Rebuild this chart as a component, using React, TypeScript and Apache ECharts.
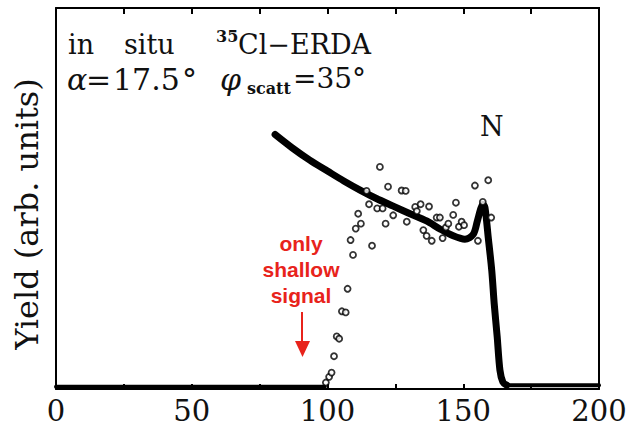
import React, { useEffect, useRef } from "react";
import * as echarts from "echarts";

// x tick labels (channel / depth axis)
const xTickLabels = [0, 50, 100, 150, 200];

// simulated (thick) curve
const simX = [80.7, 87, 93.6, 100, 106, 112, 118, 124.2, 130.4, 136.5, 141.4, 146.3, 150.6, 153.7, 155.2, 156.4, 157.2, 158.0, 159.2, 160.5, 161.4, 162.5, 163.5, 164.6, 166];
const simY = [66.8, 63.3, 60.0, 57.2, 54.6, 52.2, 50.0, 48.0, 46.0, 44.1, 42.0, 40.2, 39.3, 40.6, 44.1, 47.2, 48.5, 47.6, 39.8, 31.1, 22.4, 13.7, 5.0, 1.8, 1.0];

// flat baselines
const baseLeftX = [0, 99];
const baseLeftY = [0.6, 0.6];
const baseRightX = [165.5, 200];
const baseRightY = [1.0, 1.0];

// measured points (open circles)
const measX = [99.4, 100.6, 101.5, 102.4, 103.4, 104.3, 105.3, 106.7, 107.4, 108.5, 109.4, 110.4, 111.3, 112.3, 114.4, 115.3, 116.4, 118.3, 119.3, 120.3, 121.4, 122.3, 124.2, 127.3, 128.8, 129.2, 132.3, 132.9, 134.3, 135.3, 136.5, 137.4, 138.4, 140.2, 141.4, 142.4, 143.6, 144.5, 146.3, 147.3, 148.4, 149.4, 150.3, 154.3, 155.4, 157.2, 159.2, 160.3];
const measY = [1.7, 3.2, 4.3, 8.6, 13.8, 13.2, 20.4, 20.1, 26.3, 39.1, 35.2, 42.1, 46.0, 43.4, 52.0, 48.5, 37.6, 47.4, 58.3, 47.4, 43.4, 53.1, 45.6, 52.1, 52.0, 43.9, 47.8, 46.7, 48.5, 41.7, 40.2, 47.9, 38.9, 45.0, 45.0, 39.6, 42.4, 43.4, 45.7, 48.9, 42.6, 43.9, 43.0, 53.4, 38.9, 49.1, 54.8, 45.0];

const SERIF = "'DejaVu Serif', serif";
const RED = "#e8231b";
const INK = "#111";

export default function App() {
  const ref = useRef<HTMLDivElement>(null);

  useEffect(() => {
    if (!ref.current) return;
    const chart = echarts.init(ref.current, null, { renderer: "svg" });

    const pairs = (xs: number[], ys: number[]) => xs.map((x, i) => [x, ys[i]]);

    const lineSty = { color: "#000", width: 2 };

    chart.setOption({
      animation: false,
      backgroundColor: "#fff",
      grid: [{ left: 56, right: 32, top: 8, bottom: 41 }],
      xAxis: [
        {
          type: "value",
          gridIndex: 0,
          min: 0,
          max: 200,
          interval: 25,
          position: "bottom",
          splitLine: { show: false },
          axisLine: { show: true, onZero: false, lineStyle: lineSty },
          axisTick: { show: true, inside: true, length: 5, lineStyle: lineSty },
          axisLabel: {
            show: true,
            margin: 7,
            fontFamily: SERIF,
            fontSize: 29,
            color: INK,
            formatter: (v: number) => (xTickLabels.includes(v) ? String(v) : ""),
          },
        },
        {
          type: "value",
          gridIndex: 0,
          min: 0,
          max: 200,
          interval: 25,
          position: "top",
          splitLine: { show: false },
          axisLine: { show: true, onZero: false, lineStyle: lineSty },
          axisTick: { show: true, inside: true, length: 6, lineStyle: lineSty },
          axisLabel: { show: false },
        },
      ],
      yAxis: [
        {
          type: "value",
          gridIndex: 0,
          min: 0,
          max: 100,
          position: "left",
          splitLine: { show: false },
          axisTick: { show: false },
          axisLabel: { show: false },
          axisLine: { show: true, onZero: false, lineStyle: lineSty },
        },
        {
          type: "value",
          gridIndex: 0,
          min: 0,
          max: 100,
          position: "right",
          splitLine: { show: false },
          axisTick: { show: false },
          axisLabel: { show: false },
          axisLine: { show: true, onZero: false, lineStyle: lineSty },
        },
      ],
      series: [
        {
          type: "line",
          data: pairs(baseLeftX, baseLeftY),
          symbol: "none",
          lineStyle: { color: "#000", width: 4, cap: "round" },
          z: 2,
        },
        {
          type: "line",
          xAxisIndex: 1,
          yAxisIndex: 1,
          data: pairs(baseRightX, baseRightY),
          symbol: "none",
          lineStyle: { color: "#000", width: 4, cap: "round" },
          z: 2,
        },
        {
          type: "line",
          data: pairs(simX, simY),
          symbol: "none",
          smooth: 0.3,
          lineStyle: { color: "#000", width: 7, cap: "round", join: "round" },
          z: 3,
        },
        {
          type: "scatter",
          data: pairs(measX, measY),
          symbol: "circle",
          symbolSize: 6,
          itemStyle: { color: "#fff", borderColor: "#000", borderWidth: 1.8 },
          z: 4,
        },
      ],
      graphic: [
        {
          type: "polyline",
          shape: { points: [[56, 8], [599, 8], [599, 389]] },
          style: { stroke: "#000", lineWidth: 2, fill: null },
        },
        { type: "text", left: 68, top: 31, style: { text: "in", font: `27px ${SERIF}`, fill: INK } },
        { type: "text", left: 124, top: 31, style: { text: "situ", font: `27px ${SERIF}`, fill: INK } },
        { type: "text", left: 216, top: 28, style: { text: "35", font: `bold 16px ${SERIF}`, fill: INK } },
        { type: "text", left: 238, top: 31, style: { text: "Cl\u2212ERDA", font: `27px ${SERIF}`, fill: INK } },
        { type: "text", left: 67, top: 64, style: { text: "\u03b1", font: `italic 30px ${SERIF}`, fill: INK } },
        { type: "text", left: 86, top: 64, style: { text: "=", font: `30px ${SERIF}`, fill: INK } },
        { type: "text", left: 113, top: 64, style: { text: "17.5", font: `30px ${SERIF}`, fill: INK } },
        { type: "text", left: 182, top: 64, style: { text: "\u00b0", font: `30px ${SERIF}`, fill: INK } },
        { type: "text", left: 220, top: 64, style: { text: "\u03c6", font: `italic 30px ${SERIF}`, fill: INK } },
        { type: "text", left: 247, top: 80, style: { text: "scatt", font: `bold 16px ${SERIF}`, fill: INK } },
        { type: "text", left: 293, top: 64, style: { text: "=35\u00b0", font: `28px ${SERIF}`, fill: INK } },
        { type: "text", left: 480, top: 113, style: { text: "N", font: `27px ${SERIF}`, fill: INK } },
        {
          type: "text",
          x: 27,
          y: 214,
          rotation: Math.PI / 2,
          style: { text: "Yield (arb. units)", font: `32px ${SERIF}`, fill: INK, align: "center", verticalAlign: "middle" },
        },
        {
          type: "text",
          x: 301,
          y: 230,
          style: {
            text: "only\nshallow\nsignal",
            font: `bold 21px 'Liberation Sans', Arial, sans-serif`,
            fill: RED,
            align: "center",
            verticalAlign: "top",
            lineHeight: 26,
          },
        },
        { type: "line", shape: { x1: 302, y1: 312, x2: 302, y2: 343 }, style: { stroke: RED, lineWidth: 2 } },
        { type: "polygon", shape: { points: [[295, 341], [310, 341], [302.5, 357]] }, style: { fill: RED } },
      ],
    });

    return () => chart.dispose();
  }, []);

  return <div ref={ref} style={{ position: "absolute", left: 0, top: 0, width: 631, height: 430 }} />;
}
